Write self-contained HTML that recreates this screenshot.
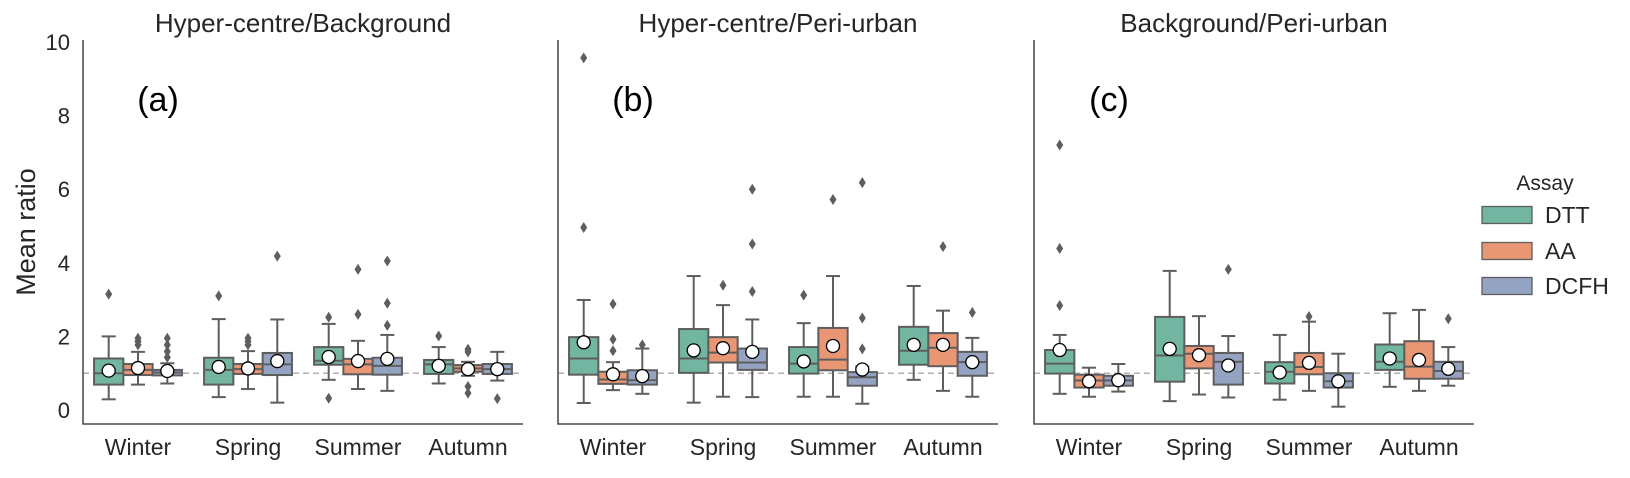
<!DOCTYPE html>
<html><head><meta charset="utf-8"><style>
body{margin:0;background:#fff;}
svg text{font-family:"Liberation Sans",Arial,sans-serif;fill:#262626;}
</style></head><body>
<svg id="chart" width="1630" height="473" xmlns="http://www.w3.org/2000/svg"></svg>
<script>
const seasons = ["Winter","Spring","Summer","Autumn"];
const assays = ["DTT","AA","DCFH"];
const panelTitles = ["Hyper-centre/Background","Hyper-centre/Peri-urban","Background/Peri-urban"];
const panelTags = ["(a)","(b)","(c)"];
const yTicks = [0,2,4,6,8,10];
// order: Winter DTT,AA,DCFH, Spring..., Summer..., Autumn...
const lowA  = [0.29,0.69,0.72, 0.35,0.57,0.20, 0.82,0.57,0.52, 0.72,0.93,0.80];
const q1A   = [0.69,0.95,0.94, 0.69,0.98,0.95, 1.23,0.97,0.96, 0.98,1.04,0.98];
const medA  = [1.00,1.09,1.02, 1.09,1.11,1.24, 1.34,1.24,1.20, 1.24,1.13,1.11];
const q3A   = [1.40,1.25,1.09, 1.42,1.25,1.55, 1.71,1.39,1.42, 1.36,1.22,1.25];
const highA = [2.00,1.58,1.27, 2.47,1.60,2.46, 2.34,1.88,2.04, 1.71,1.31,1.58];
const meanA = [1.07,1.14,1.06, 1.17,1.13,1.33, 1.44,1.33,1.39, 1.20,1.11,1.11];
const outA  = [[3.15],[1.95,1.86,1.77],[1.95,1.77,1.59,1.43], [3.10],[1.95,1.86,1.77],[4.18], [2.52,0.32],[3.82,2.60],[4.05,2.90,2.30], [2.01],[1.65,1.58,0.64,0.46],[0.31]];

const lowB  = [0.19,0.54,0.44, 0.20,0.36,0.35, 0.36,0.36,0.17, 0.82,0.52,0.36];
const q1B   = [0.96,0.71,0.69, 1.01,1.29,1.09, 0.99,1.08,0.66, 1.23,1.19,0.93];
const medB  = [1.40,0.83,0.81, 1.40,1.56,1.29, 1.26,1.37,0.89, 1.61,1.69,1.30];
const q3B   = [1.98,1.04,1.08, 2.20,1.98,1.67, 1.71,2.23,1.03, 2.26,2.09,1.58];
const highB = [2.99,1.30,1.67, 3.64,2.85,2.46, 2.36,3.64,1.18, 3.37,2.70,1.96];
const meanB = [1.84,0.97,0.92, 1.62,1.68,1.58, 1.32,1.74,1.10, 1.77,1.77,1.30];
const outB  = [[9.57,4.96],[2.88,1.92,1.61],[1.77], [],[3.39],[6.00,4.51,3.22], [3.12],[5.72],[6.18,2.50,1.66], [],[4.44],[2.65]];

const lowC  = [0.44,0.36,0.50, 0.24,0.42,0.34, 0.28,0.52,0.09, 0.63,0.52,0.66];
const q1C   = [0.99,0.61,0.66, 0.77,1.13,0.69, 0.72,0.97,0.61, 1.09,0.85,0.85];
const medC  = [1.26,0.80,0.80, 1.48,1.53,1.31, 1.04,1.17,0.78, 1.31,1.18,1.06];
const q3C   = [1.63,0.96,0.93, 2.53,1.74,1.55, 1.30,1.55,1.00, 1.78,1.87,1.31];
const highC = [2.04,1.15,1.25, 3.78,2.55,2.01, 2.04,2.40,1.53, 2.63,2.72,1.71];
const meanC = [1.63,0.78,0.81, 1.66,1.49,1.21, 1.02,1.28,0.78, 1.40,1.36,1.12];
const outC  = [[7.20,4.39,2.84],[],[], [],[],[3.82], [],[2.54],[], [],[],[2.48]];

const panels = [
  {low:lowA,q1:q1A,med:medA,q3:q3A,high:highA,mean:meanA,out:outA},
  {low:lowB,q1:q1B,med:medB,q3:q3B,high:highB,mean:meanB,out:outB},
  {low:lowC,q1:q1C,med:medC,q3:q3C,high:highC,mean:meanC,out:outC}
];
const colors = ["#72b6a1","#e99675","#95a3c3"];
const NS="http://www.w3.org/2000/svg";
const svg=document.getElementById("chart");
function mk(tag,attrs,parent){const e=document.createElementNS(NS,tag);for(const k in attrs)e.setAttribute(k,attrs[k]);(parent||svg).appendChild(e);return e;}
const Y=v=>410-36.8*v;
const panelX=[83,558,1034];
const groupW=110, boxW=29.3;
const edge="#5e5e5e";

const yl=mk("text",{x:0,y:0,"font-size":27,"text-anchor":"middle",transform:"translate(35,232) rotate(-90)"});
yl.textContent="Mean ratio";



yTicks.forEach(t=>{
  const tx=mk("text",{x:70,y:Y(t)+8,"font-size":22,"text-anchor":"end"});
  tx.textContent=t;
  
  
});

panels.forEach((P,pi)=>{
  const x0=panelX[pi];
  const X=(s,a)=>x0+groupW*(s+0.5)+(a-1)*boxW;
  const g=mk("g",{});
  
  
  const title=mk("text",{x:x0+220,y:32,"font-size":26,"text-anchor":"middle"},g);
  title.textContent=panelTitles[pi];
  
  
  const tag=mk("text",{x:x0+75,y:111,"font-size":34,"text-anchor":"middle",style:"fill:#000"},g);
  tag.textContent=panelTags[pi];
  
  
  const ref=mk("line",{x1:x0,x2:x0+440,y1:Y(1),y2:Y(1),stroke:"#b0b0b0","stroke-width":1.5,"stroke-dasharray":"6,4"},g);
  
  
  const ax=mk("path",{d:`M${x0},40 V424 H${x0+440}`,fill:"none",stroke:"#262626","stroke-width":1.3},g);
  
  
  seasons.forEach((s,si)=>{
    const lt=mk("text",{x:x0+groupW*(si+0.5),y:455,"font-size":23,"text-anchor":"middle"},g);
    lt.textContent=s;
    
    
    assays.forEach((a,ai)=>{
      const i=si*3+ai, cx=X(si,ai);
      const bg=mk("g",{},g);
      
      
      const sw=2;
      mk("line",{x1:cx,x2:cx,y1:Y(P.high[i]),y2:Y(P.q3[i]),stroke:edge,"stroke-width":sw},bg);
      mk("line",{x1:cx,x2:cx,y1:Y(P.q1[i]),y2:Y(P.low[i]),stroke:edge,"stroke-width":sw},bg);
      mk("line",{x1:cx-7,x2:cx+7,y1:Y(P.high[i]),y2:Y(P.high[i]),stroke:edge,"stroke-width":sw},bg);
      mk("line",{x1:cx-7,x2:cx+7,y1:Y(P.low[i]),y2:Y(P.low[i]),stroke:edge,"stroke-width":sw},bg);
      mk("rect",{x:cx-boxW/2,y:Y(P.q3[i]),width:boxW,height:Y(P.q1[i])-Y(P.q3[i]),fill:colors[ai],stroke:edge,"stroke-width":sw},bg);
      mk("line",{x1:cx-boxW/2,x2:cx+boxW/2,y1:Y(P.med[i]),y2:Y(P.med[i]),stroke:edge,"stroke-width":sw},bg);
      P.out[i].forEach(v=>{
        const y=Y(v);
        const d=mk("path",{d:`M${cx},${y-5.5} L${cx+3.5},${y} L${cx},${y+5.5} L${cx-3.5},${y} Z`,fill:edge},bg);
        
        
      });
      const m=mk("circle",{cx:cx,cy:Y(P.mean[i]),r:6.5,fill:"#fff",stroke:"#000","stroke-width":1.3},bg);
      
      
    });
  });
});

const lg=mk("g",{});


const lt=mk("text",{x:1545,y:190,"font-size":21,"text-anchor":"middle"},lg);
lt.textContent="Assay";


const rowY=[215,251,286];
assays.forEach((a,ai)=>{
  const e=mk("g",{},lg);
  
  
  mk("rect",{x:1482,y:rowY[ai]-8.5,width:50,height:17,fill:colors[ai],stroke:edge,"stroke-width":1.3},e);
  const t=mk("text",{x:1545,y:rowY[ai]+8,"font-size":23},e);
  t.textContent=a;
});
</script>
</body></html>
